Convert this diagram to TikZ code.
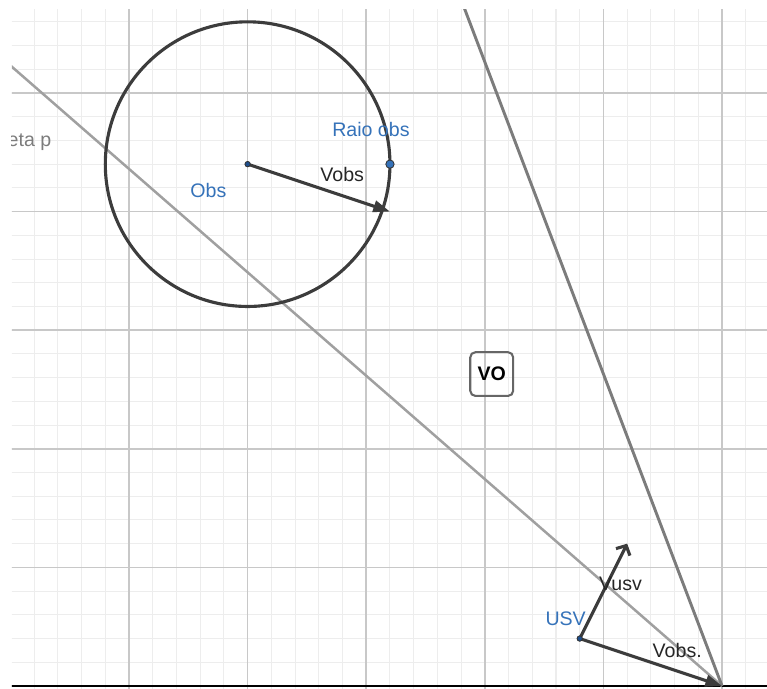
\documentclass[tikz,border=0pt]{standalone}
\usepackage{fontspec}
\setmainfont{Liberation Sans}
\usepackage{xcolor}
\usepackage{tikz}
\usetikzlibrary{arrows.meta,positioning,calc}
\definecolor{ggblue}{HTML}{3572B9}
\definecolor{ggdark}{HTML}{3C3C3C}
\definecolor{gggray}{HTML}{7C7C7C}
\definecolor{gglight}{HTML}{A0A0A0}
\definecolor{ggmajor}{HTML}{C8C8C8}
\definecolor{ggminor}{HTML}{EDEDED}
\definecolor{ggpoint}{HTML}{1E4E8C}

\begin{document}
\begin{tikzpicture}[
  x=2cm, y=2cm,
  font=\fontsize{9.4}{11}\selectfont,
  minorgrid/.style={draw=ggminor, line width=0.5pt},
  majorgrid/.style={draw=ggmajor, line width=0.75pt},
  axisline/.style={draw=black, line width=1.4pt},
  coneline/.style={draw=gggray, line width=1.4pt},
  retaline/.style={draw=gglight, line width=1.2pt},
  obstacle/.style={draw=ggdark, line width=1.5pt},
  vecfill/.style={-{Triangle[length=8pt,width=5.5pt]}, draw=ggdark, line width=1.5pt},
  vecopen/.style={-{Straight Barb[length=3.5pt,width=7.5pt]}, draw=ggdark, line width=1.5pt},
  ptlabel/.style={text=ggblue, inner sep=0pt, anchor=base west},
  veclabel/.style={text=black!85, inner sep=0pt, anchor=base west},
  dot/.style={circle, fill=ggpoint, draw=black!80, line width=0.4pt, inner sep=0pt, minimum size=2.6pt},
  bigdot/.style={dot, fill=ggblue, minimum size=4pt},
  vobox/.style={
    rectangle,
    draw=black!60,
    line width=1pt,
    rounded corners=2.5pt,
    minimum width=20.6pt,
    minimum height=21pt,
    inner sep=0pt,
    font=\fontsize{9.4}{11}\selectfont\bfseries
  }
]

\useasboundingbox (-6.088,-0.025) rectangle (0.379,5.784);
\clip (-5.987,-0.1) rectangle (0.379,5.70);

\draw[minorgrid] (-6,-0.1) grid[step=0.2] (0.4,5.8);
\draw[majorgrid] (-6,-0.1) grid[step=1] (0.4,5.8);
\draw[axisline] (-6,0) -- (0.4,0);

\coordinate (apex) at (0,0);
\coordinate (retaend) at (-6.2,5.406);
\coordinate (conetop) at (-2.205,5.8);
\coordinate (obs) at (-4,4.4);
\coordinate (raio) at (-2.8,4.4);
\coordinate (usv) at (-1.2,0.4);
\coordinate (vobstip) at (-2.8,4.0);
\coordinate (vusvtip) at (-0.8,1.2);

\draw[retaline] (apex) -- (retaend);
\draw[coneline] (apex) -- (conetop);
\draw[obstacle] (obs) circle[radius=1.2];

\draw[vecfill] (obs) -- (vobstip);
\draw[vecfill] (usv) -- (apex);
\draw[vecopen] (usv) -- (vusvtip);

\node[dot] (obspt) at (obs) {};
\node[dot] (usvpt) at (usv) {};
\node[bigdot] (raiopt) at (raio) {};

\node[ptlabel] (obslabel) at (-4.486,4.117) {Obs};
\node[ptlabel] (raiolabel) at (-3.29,4.637) {Raio obs};
\node[ptlabel] (usvlabel) at (-1.492,0.514) {USV};
\node[veclabel] (vobslabel) at (-3.39,4.252) {Vobs};
\node[veclabel] (vusvlabel) at (-1.04,0.809) {Vusv};
\node[veclabel] (vobsdlabel) at (-0.588,0.239) {Vobs.};
\node[ptlabel, text=gggray, anchor=base east] (retalabel) at (-5.652,4.547) {eta p};

\node[vobox] (vo) at (-1.942,2.63) {VO};

\end{tikzpicture}
\end{document}
